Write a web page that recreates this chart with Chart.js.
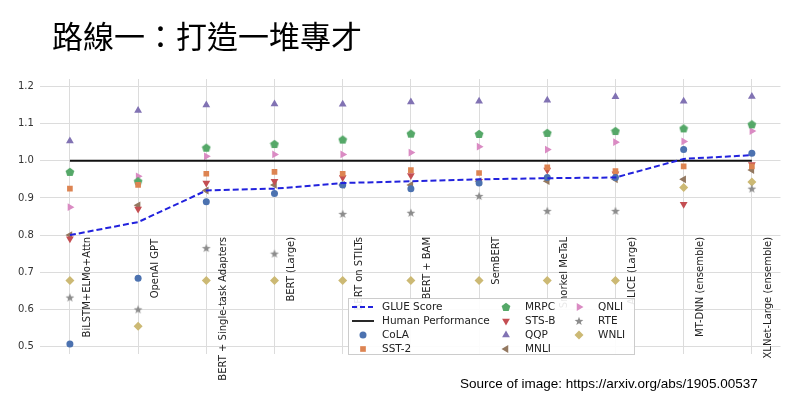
<!DOCTYPE html>
<html><head><meta charset="utf-8">
<script src="https://cdn.jsdelivr.net/npm/chart.js@4"></script>
<style>
body{margin:0;background:#fff;width:785px;height:401px;overflow:hidden;font-family:'DejaVu Sans',sans-serif}
#title{position:absolute;left:52px;top:12px;font-size:31px;font-family:'Noto Sans CJK TC','Noto Sans CJK SC',sans-serif;color:#000}
#src{position:absolute;left:460px;top:376px;font-size:13.5px;font-family:'Liberation Sans',Arial,sans-serif;color:#000}
#wrap{position:absolute;left:0;top:0;width:785px;height:401px}
</style></head><body>
<div id="wrap"><canvas id="c"></canvas></div>
<div id="title">路線一：打造一堆專才</div>
<div id="src">Source of image: https://arxiv.org/abs/1905.00537</div>
<script>
/* Categories and per-task scores (normalised to human baseline) */
var models = ['BiLSTM+ELMo+Attn', 'OpenAI GPT', 'BERT + Single-task Adapters', 'BERT (Large)',
  'BERT on STILTs', 'BERT + BAM', 'SemBERT', 'Snorkel MeTaL', 'ALICE (Large)',
  'MT-DNN (ensemble)', 'XLNet-Large (ensemble)'];
var glue  = [0.80, 0.835, 0.92, 0.925, 0.94, 0.945, 0.95, 0.953, 0.955, 1.005, 1.015];
var human = [1, 1, 1, 1, 1, 1, 1, 1, 1, 1, 1];
var cola  = [0.507, 0.684, 0.89, 0.912, 0.935, 0.925, 0.94, 0.955, 0.955, 1.03, 1.02];
var sst2  = [0.925, 0.935, 0.965, 0.97, 0.965, 0.975, 0.967, 0.982, 0.972, 0.985, 0.985];
var mrpc  = [0.97, 0.945, 1.035, 1.045, 1.057, 1.073, 1.072, 1.075, 1.08, 1.087, 1.098];
var stsb  = [0.79, 0.87, 0.94, 0.945, 0.955, 0.96, 0.945, 0.975, 0.965, 0.883, 0.99];
var qqp   = [1.053, 1.135, 1.15, 1.153, 1.152, 1.158, 1.16, 1.163, 1.172, 1.16, 1.173];
var mnli  = [0.80, 0.88, 0.92, 0.935, 0.935, 0.935, 0.945, 0.945, 0.95, 0.95, 0.975];
var qnli  = [0.875, 0.958, 1.012, 1.017, 1.017, 1.022, 1.038, 1.03, 1.05, 1.052, 1.08];
var rte   = [0.632, 0.60, 0.765, 0.75, 0.857, 0.86, 0.905, 0.865, 0.865, null, 0.925];
var wnli  = [0.678, 0.555, 0.678, 0.678, 0.678, 0.678, 0.678, 0.678, 0.678, 0.928, 0.943];
var yTicks = [0.5, 0.6, 0.7, 0.8, 0.9, 1.0, 1.1, 1.2];

function pts(arr) { return arr.map(function (v, i) { return { x: i, y: v }; }); }

/* Custom marker images for pentagon and filled star */
function marker(color, n, inner) {
  var c = document.createElement('canvas'); c.width = 10; c.height = 10;
  var g = c.getContext('2d'); g.fillStyle = color; g.beginPath();
  var steps = inner ? n * 2 : n;
  for (var k = 0; k < steps; k++) {
    var r = inner && k % 2 ? 1.9 : 4.6;
    var a = -Math.PI / 2 + k * 2 * Math.PI / steps;
    g.lineTo(5 + r * Math.cos(a), 5.3 + r * Math.sin(a));
  }
  g.closePath(); g.fill(); return c;
}

var series = [
  { label: 'CoLA', data: cola, color: '#4c72b0', style: 'circle', rot: 0, r: 3.5 },
  { label: 'SST-2', data: sst2, color: '#dd8452', style: 'rect', rot: 0, r: 4 },
  { label: 'MRPC', data: mrpc, color: '#55a868', style: marker('#55a868', 5), rot: 0, r: 4 },
  { label: 'STS-B', data: stsb, color: '#c44e52', style: 'triangle', rot: 180, r: 4.5 },
  { label: 'QQP', data: qqp, color: '#8172b3', style: 'triangle', rot: 0, r: 4.5 },
  { label: 'MNLI', data: mnli, color: '#937860', style: 'triangle', rot: -90, r: 4.5 },
  { label: 'QNLI', data: qnli, color: '#da8bc3', style: 'triangle', rot: 90, r: 4.5 },
  { label: 'RTE', data: rte, color: '#8c8c8c', style: marker('#8c8c8c', 5, true), rot: 0, r: 4 },
  { label: 'WNLI', data: wnli, color: '#ccb974', style: 'rectRot', rot: 0, r: 4.5 }
];

var datasets = [
  { type: 'line', label: 'GLUE Score', data: pts(glue), borderColor: '#2222dd', borderDash: [6, 3],
    borderWidth: 2, pointRadius: 0, fill: false, order: 0 },
  { type: 'line', label: 'Human Performance', data: pts(human), borderColor: '#111', borderWidth: 1.8,
    pointRadius: 0, fill: false, order: 1 }
];
series.forEach(function (s) {
  datasets.push({ type: 'scatter', label: s.label, data: pts(s.data), backgroundColor: s.color,
    borderColor: s.color, pointStyle: s.style, rotation: s.rot, pointRadius: s.r, borderWidth: 0, order: 2 });
});

/* Model names drawn vertically inside the plot, plus the legend box */
var extras = {
  id: 'extras',
  afterDatasetsDraw: function (chart) {
    var ctx = chart.ctx, xs = chart.scales.x, ys = chart.scales.y;
    ctx.save();
    ctx.font = '10px "DejaVu Sans"'; ctx.fillStyle = '#222';
    ctx.textBaseline = 'middle';
    models.forEach(function (m, i) {
      var top = ys.getPixelForValue(i === 1 ? 0.79 : 0.795);
      var x = xs.getPixelForValue(i) + 17;
      ctx.save(); ctx.translate(x, top); ctx.rotate(-Math.PI / 2);
      ctx.textAlign = 'right'; ctx.fillText(m, 0, 0); ctx.restore();
    });
    /* legend */
    var bx = 348, by = 298, bw = 286, bh = 56;
    ctx.fillStyle = 'rgba(255,255,255,0.9)'; ctx.strokeStyle = '#ccc'; ctx.lineWidth = 1;
    ctx.fillRect(bx, by, bw, bh); ctx.strokeRect(bx + 0.5, by + 0.5, bw, bh);
    ctx.font = '10.5px "DejaVu Sans"';
    var items = [{ t: 'GLUE Score', line: '#2222dd', dash: true }, { t: 'Human Performance', line: '#111' }]
      .concat(series.map(function (s, k) { return { t: s.label, ds: k + 2 }; }));
    var cols = [352, 495, 568], rowH = 14;
    items.forEach(function (it, k) {
      var col = k < 4 ? 0 : (k < 8 ? 1 : 2), row = k % 4;
      var x = cols[col], y = by + 9 + row * rowH;
      if (it.line) {
        ctx.beginPath(); ctx.strokeStyle = it.line; ctx.lineWidth = 1.8;
        ctx.setLineDash(it.dash ? [5, 3] : []); ctx.moveTo(x, y); ctx.lineTo(x + 22, y); ctx.stroke();
        ctx.setLineDash([]);
      } else {
        var d = chart.data.datasets[it.ds];
        ctx.save();
        ctx.fillStyle = d.backgroundColor; ctx.strokeStyle = d.backgroundColor; ctx.lineWidth = 0;
        ctx.beginPath();
        Chart.helpers.drawPoint(ctx, { pointStyle: d.pointStyle, rotation: d.rotation, radius: d.pointRadius, borderWidth: 0 }, x + 11, y);
        ctx.restore();
      }
      ctx.fillStyle = '#222'; ctx.fillText(it.t, x + 30, y);
    });
    ctx.restore();
  }
};

new Chart(document.getElementById('c'), {
  data: { datasets: datasets },
  plugins: [extras],
  options: {
    responsive: true, maintainAspectRatio: false, animation: false,
    layout: { padding: { top: 79, right: 0, bottom: 47, left: 12 } },
    plugins: { legend: { display: false }, tooltip: { enabled: false } },
    scales: {
      x: { type: 'linear', min: -0.44, max: 10.42,
        afterBuildTicks: function (s) { s.ticks = models.map(function (m, i) { return { value: i }; }); },
        ticks: { display: false },
        grid: { color: '#dcdcdc', drawTicks: false }, border: { display: false } },
      y: { min: 0.48, max: 1.22,
        afterBuildTicks: function (s) { s.ticks = yTicks.map(function (v) { return { value: v }; }); },
        ticks: { color: '#333', font: { size: 10, family: 'DejaVu Sans' }, padding: 6,
          callback: function (v) { return v.toFixed(1); } },
        grid: { color: '#dcdcdc', drawTicks: false }, border: { display: false } }
    }
  }
});
</script>
</body></html>
